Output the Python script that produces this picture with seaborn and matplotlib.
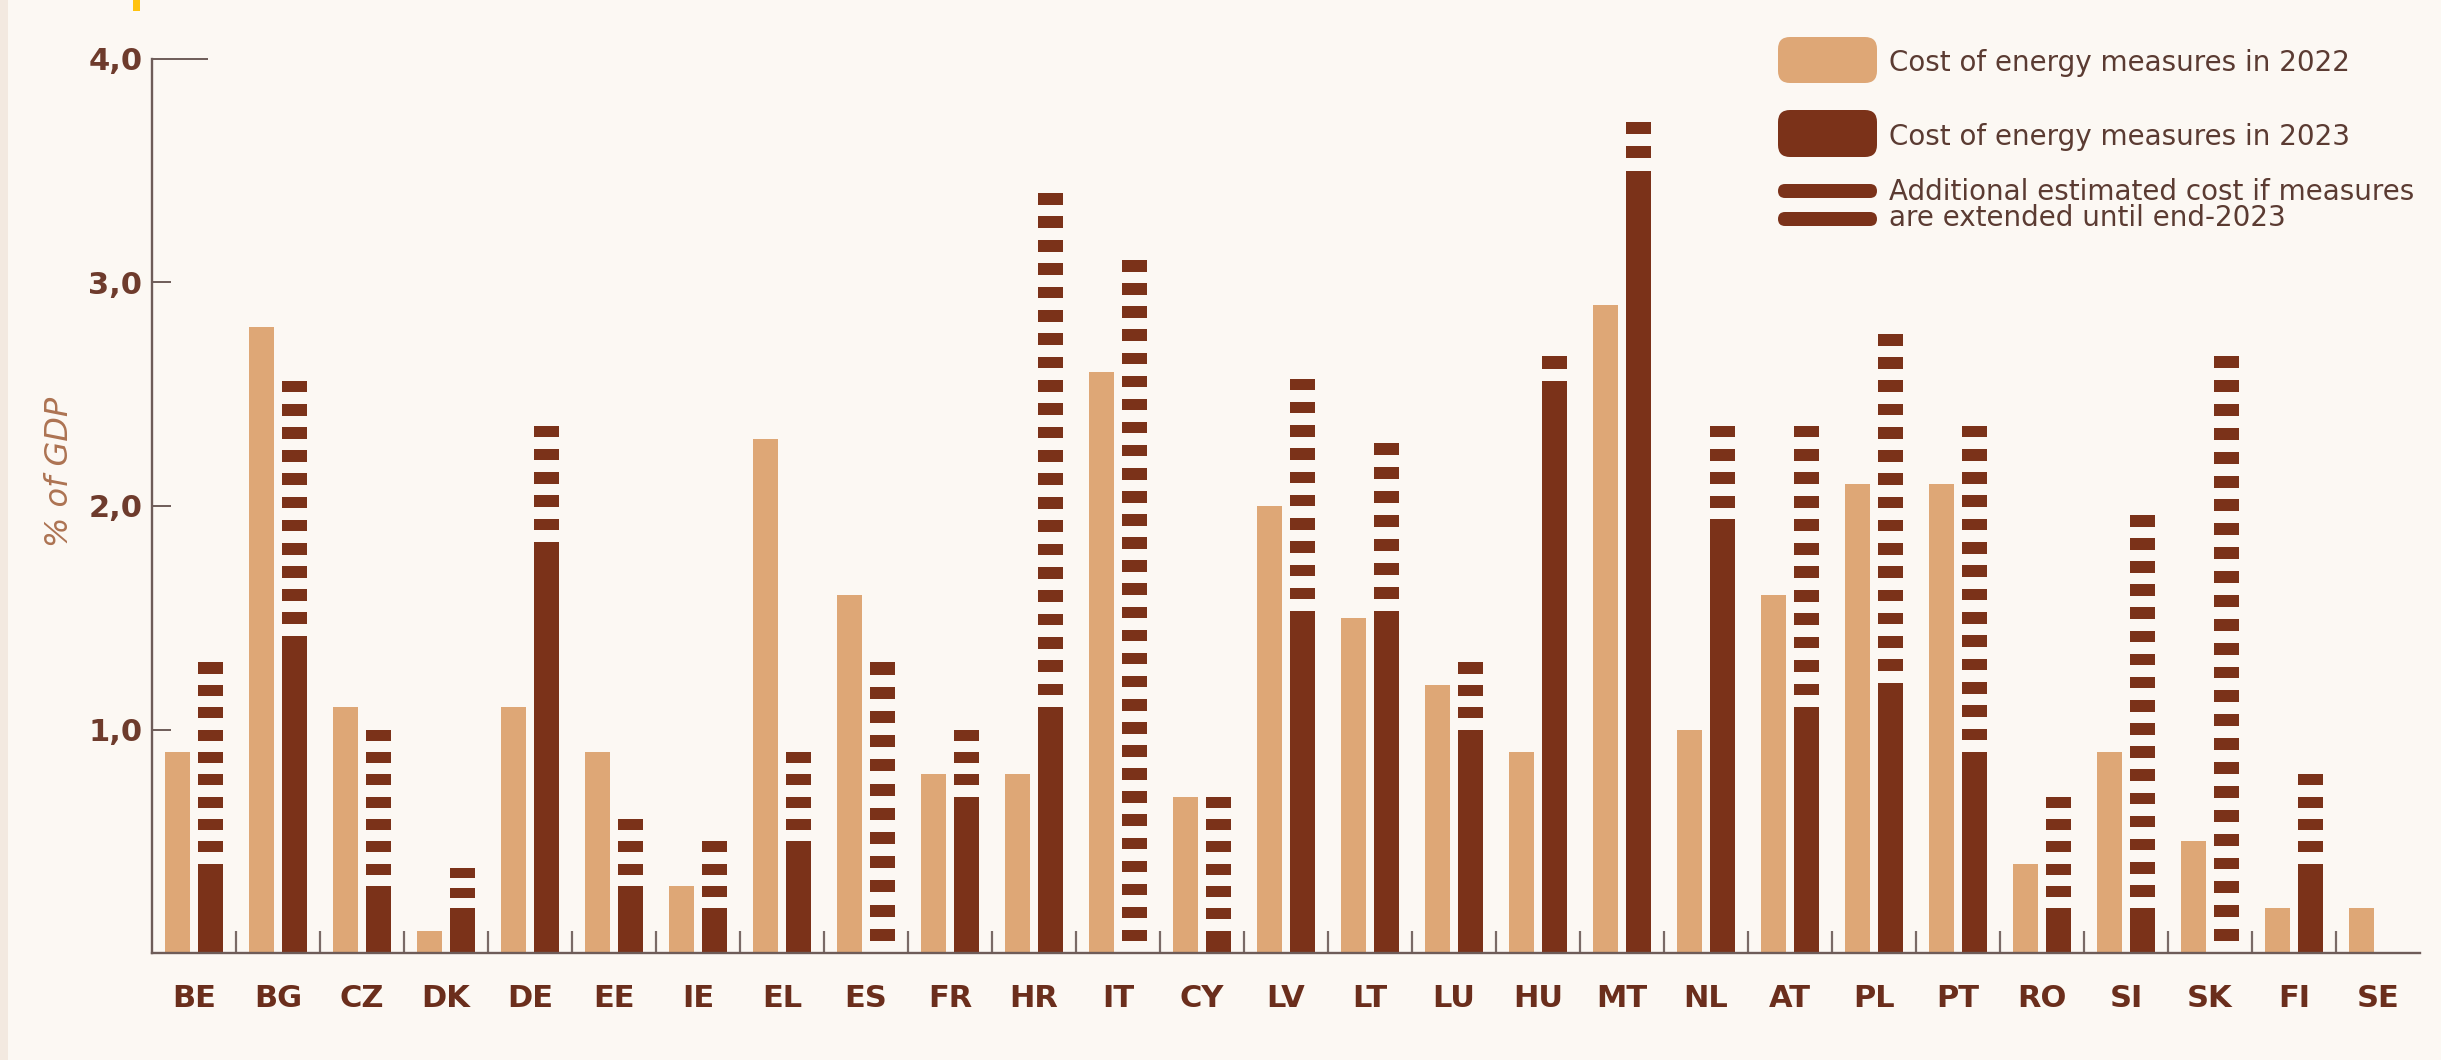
import numpy as np
import pandas as pd
import matplotlib
matplotlib.use('Agg')
import matplotlib.pyplot as plt
import seaborn as sns
from matplotlib.patches import FancyBboxPatch, Rectangle
from matplotlib.transforms import IdentityTransform

# --- data (% of GDP) ---
countries = ['BE', 'BG', 'CZ', 'DK', 'DE', 'EE', 'IE', 'EL', 'ES', 'FR', 'HR', 'IT', 'CY', 'LV',
             'LT', 'LU', 'HU', 'MT', 'NL', 'AT', 'PL', 'PT', 'RO', 'SI', 'SK', 'FI', 'SE']
cost_2022 = [0.9, 2.8, 1.1, 0.1, 1.1, 0.9, 0.3, 2.3, 1.6, 0.8, 0.8, 2.6, 0.7, 2.0,
             1.5, 1.2, 0.9, 2.9, 1.0, 1.6, 2.1, 2.1, 0.4, 0.9, 0.5, 0.2, 0.2]
cost_2023 = [0.4, 1.42, 0.3, 0.2, 1.84, 0.3, 0.2, 0.5, 0.0, 0.7, 1.1, 0.0, 0.1, 1.53,
             1.53, 1.0, 2.56, 3.5, 1.94, 1.1, 1.21, 0.9, 0.2, 0.2, 0.0, 0.4, np.nan]
# 2023 total if the measures are extended until end-2023
cost_extended = [1.3, 2.56, 1.0, 0.38, 2.36, 0.6, 0.5, 0.9, 1.3, 1.0, 3.4, 3.1, 0.7, 2.57,
                 2.28, 1.3, 2.67, 3.72, 2.36, 2.36, 2.77, 2.36, 0.7, 1.96, 2.67, 0.8, np.nan]
y_ticks = [1, 2, 3, 4]
y_tick_labels = ['1,0', '2,0', '3,0', '4,0']
legend_labels = ['Cost of energy measures in 2022',
                 'Cost of energy measures in 2023',
                 'Additional estimated cost if measures\nare extended until end-2023']

# --- style ---
BG = '#FCF8F3'
LIGHT = '#DEA776'
DARK = '#7B3219'
AXIS = '#6E5C58'
STRIPE_STEP = 0.105   # approx. period of the stripes in the original

sns.set_style('white')
plt.rcParams['font.family'] = ['DejaVu Sans']

W, H = 2441, 1060
fig = plt.figure(figsize=(W / 100, H / 100), dpi=100, facecolor=BG)
ax = fig.add_axes([152 / W, 1 - 953 / H, (2420 - 152) / W, (953 - 59) / H])
ax.set_facecolor(BG)

df = pd.DataFrame({
    'country': countries * 2,
    'year': ['2022'] * len(countries) + ['2023'] * len(countries),
    'value': cost_2022 + cost_2023,
})
sns.barplot(data=df, x='country', y='value', hue='year', order=countries,
            hue_order=['2022', '2023'], palette=[LIGHT, DARK], width=0.8, gap=0.25,
            saturation=1, linewidth=0, errorbar=None, legend=False, ax=ax)

# striped part on top of the 2023 bars: whole stripe periods between the
# 2023 value and the extended total, top stripe flush with the total
for p in list(ax.containers[1]):
    cx = p.get_x() + p.get_width() / 2
    i = int(round(cx))
    total, base = cost_extended[i], cost_2023[i]
    if np.isnan(total) or total <= base:
        continue
    n = max(1, int(round((total - base) / STRIPE_STEP)))
    step = (total - base) / n
    for k in range(n):
        top = total - k * step
        ax.bar(cx, step / 2, bottom=top - step / 2, width=p.get_width(),
               color=DARK, linewidth=0)

# --- axes ---
ax.set_xlim(-0.5, len(countries) - 0.5)
ax.set_ylim(0, 4)
ax.set_xlabel('')
ax.set_ylabel('')
sns.despine(ax=ax)
for side in ['left', 'bottom']:
    ax.spines[side].set_color(AXIS)
    ax.spines[side].set_linewidth(1.7)

ax.set_xticks(range(len(countries)))
ax.set_xticklabels(countries, fontweight='bold')
ax.set_xticks(np.arange(0.5, len(countries) - 1, 1), minor=True)
ax.tick_params(axis='x', which='major', bottom=True, length=0, pad=22, labelsize=22,
               labelcolor='#6B2E1C')
ax.tick_params(axis='x', which='minor', bottom=True, direction='in', length=16, width=1.6,
               color='#7A6A66')

ax.set_yticks(y_ticks)
ax.set_yticklabels(y_tick_labels, fontweight='bold')
ax.tick_params(axis='y', which='major', left=True, direction='in', length=14, width=1.4,
               color=AXIS, pad=7, labelsize=22, labelcolor='#6E3B2C')
ax.tick_params(axis='y', which='minor', left=False)
ax.yaxis.get_major_ticks()[-1].tick1line.set_markersize(40)

fig.text(59 / W, 1 - 472 / H, '% of GDP', rotation=90, style='italic', color='#AD7352',
         fontsize=23, ha='center', va='center')

# --- legend drawn in pixels ---
ident = IdentityTransform()
fig.add_artist(FancyBboxPatch((1778, H - 83), 99, 46, boxstyle='round,pad=0,rounding_size=12',
                              facecolor=LIGHT, edgecolor='none', transform=ident))
fig.add_artist(FancyBboxPatch((1778, H - 157), 99, 47, boxstyle='round,pad=0,rounding_size=12',
                              facecolor=DARK, edgecolor='none', transform=ident))
for y0 in (184, 212):
    fig.add_artist(FancyBboxPatch((1778, H - y0 - 14), 99, 14, boxstyle='round,pad=0,rounding_size=7',
                                  facecolor=DARK, edgecolor='none', transform=ident))
legend_y = [63, 137, 205]
for lab, yy in zip(legend_labels, legend_y):
    fig.text(1889 / W, 1 - yy / H, lab, fontsize=20, color='#5B3B32', ha='left', va='center',
             linespacing=0.9)

# frame details of the original picture
fig.add_artist(Rectangle((0, 0), 8, H, facecolor='#F3E9E0', edgecolor='none', transform=ident))
fig.add_artist(Rectangle((133, H - 11), 7, 11, facecolor='#FFC20E', edgecolor='none', transform=ident))

fig.savefig('out.png', dpi=100, facecolor=BG)
